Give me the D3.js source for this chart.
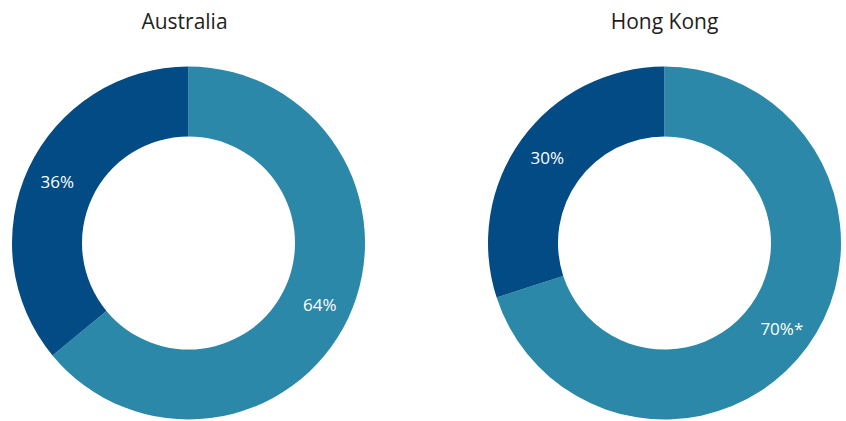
<!DOCTYPE html>
<html><head><meta charset="utf-8">
<script src="https://cdn.jsdelivr.net/npm/d3@7"></script>
<style>html,body{margin:0;padding:0;background:#fff;}</style>
</head><body>
<svg id="chart" width="846" height="421"></svg>
<script>
const regions = ["Australia", "Hong Kong"];
const categories = ["Teal", "Dark"];
const values = [[64, 36], [70, 30]];
const labels = [["64%", "36%"], ["70%*", "30%"]];
const colors = ["#2b88a8", "#034b84"];

const W = 846, H = 421;
const svg = d3.select("#chart");
const centersX = [188.5, 664.5];
const cy = 243;
const outerR = 176.5, innerR = 106.5, labelR = 145;

const pie = d3.pie().sort(null).value(d => d);
const arc = d3.arc().innerRadius(innerR).outerRadius(outerR);
const labelArc = d3.arc().innerRadius(labelR).outerRadius(labelR);

regions.forEach((r, i) => {
  const g = svg.append("g").attr("transform", `translate(${centersX[i]},${cy})`);
  const arcs = pie(values[i]);
  g.selectAll("path").data(arcs).join("path")
    .attr("d", arc)
    .attr("fill", (d, j) => colors[j]);
  g.selectAll("text.lbl").data(arcs).join("text")
    .attr("class", "lbl")
    .attr("transform", d => `translate(${labelArc.centroid(d)})`)
    .attr("text-anchor", "middle")
    .attr("dominant-baseline", "central")
    .attr("font-family", "'Open Sans', sans-serif")
    .attr("font-size", 17)
    .attr("fill", "#ffffff")
    .text((d, j) => labels[i][j]);
  svg.append("text")
    .attr("x", centersX[i] - (i === 0 ? 4 : 0))
    .attr("y", 29)
    .attr("text-anchor", "middle")
    .attr("font-family", "'Open Sans', sans-serif")
    .attr("font-size", 21)
    .attr("fill", "#231f20")
    .text(r);
});
</script>
</body></html>
